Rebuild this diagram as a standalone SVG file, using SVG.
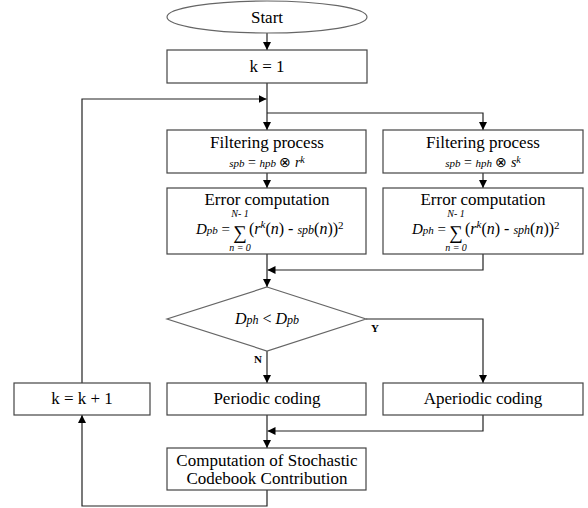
<svg xmlns="http://www.w3.org/2000/svg" width="588" height="508" viewBox="0 0 588 508">
<defs>
<marker id="ah" viewBox="0 0 8 8" refX="8" refY="4" markerWidth="8" markerHeight="8" markerUnits="userSpaceOnUse" orient="auto">
<path d="M0,0 L8,4 L0,8 z" fill="#000"/>
</marker>
</defs>
<style>
.box{fill:#fff;stroke:#444;stroke-width:1.2}
.dia{fill:#fff;stroke:#666;stroke-width:1.2}
.t{font-family:'Liberation Serif',serif;font-size:17px;fill:#000;text-anchor:middle}
.m{font-family:'Liberation Serif',serif;font-style:italic;fill:#000}
.lbl{font-family:'Liberation Serif',serif;font-size:11px;font-weight:bold;fill:#000;text-anchor:middle}
.ca{fill:none;stroke:#222;stroke-width:1.2;marker-end:url(#ah)}
</style>
<rect width="588" height="508" fill="#fff"/>
<g id="connectors">
<path class="ca" d="M267 33 V50"/>
<path class="ca" d="M267 83 V130"/>
<path class="ca" d="M267 113 H483 V130"/>
<path class="ca" d="M267 173 V188"/>
<path class="ca" d="M483 173 V188"/>
<path class="ca" d="M267 254 V287"/>
<path class="ca" d="M483 254 V270 H267.5"/>
<path class="ca" d="M267 351 V383"/>
<path class="ca" d="M366 319 H483 V383"/>
<path class="ca" d="M267 415 V448"/>
<path class="ca" d="M483 415 V431 H267.5"/>
<path class="ca" d="M267 490 V506 H82 V415"/>
<path class="ca" d="M82 383 V99 H266.5"/>
</g>
<g id="start">
<ellipse class="dia" cx="267" cy="17" rx="100" ry="16"/>
<text class="t" x="267" y="23">Start</text>
</g>
<g id="init">
<rect class="box" x="167" y="50" width="200" height="33"/>
<text class="t" x="267" y="72">k = 1</text>
</g>
<g id="filter-left">
<rect class="box" x="167" y="130" width="199" height="43"/>
<text class="t" x="267" y="148">Filtering process</text>
<text class="m" x="267" y="167" text-anchor="middle" font-size="11"><tspan>spb</tspan><tspan font-style="normal" font-size="14"> = </tspan><tspan>hpb</tspan><tspan font-style="normal" font-size="14"> ⊗ </tspan><tspan font-size="14">r</tspan><tspan font-size="10" dy="-4">k</tspan></text>
</g>
<g id="filter-right">
<rect class="box" x="383" y="130" width="200" height="43"/>
<text class="t" x="483" y="148">Filtering process</text>
<text class="m" x="483" y="167" text-anchor="middle" font-size="11"><tspan>spb</tspan><tspan font-style="normal" font-size="14"> = </tspan><tspan>hph</tspan><tspan font-style="normal" font-size="14"> ⊗ </tspan><tspan font-size="14">s</tspan><tspan font-size="10" dy="-4">k</tspan></text>
</g>
<g id="error-left">
<rect class="box" x="167" y="188" width="199" height="66"/>
<text class="t" x="267" y="205">Error computation</text>
<text class="m" x="196" y="234" font-size="15"><tspan>D</tspan><tspan font-size="11">pb</tspan><tspan font-style="normal"> =</tspan></text>
<text class="m" x="240" y="239" text-anchor="middle" font-size="19" font-style="normal">∑</text>
<text class="m" x="240" y="217" text-anchor="middle" font-size="10">N- 1</text>
<text class="m" x="240" y="251" text-anchor="middle" font-size="10">n = 0</text>
<text class="m" x="249" y="234" font-size="16"><tspan font-style="normal">(</tspan><tspan>r</tspan><tspan font-size="11" dy="-6">k</tspan><tspan dy="6" font-style="normal">(</tspan><tspan>n</tspan><tspan font-style="normal">) - </tspan><tspan font-size="12">spb</tspan><tspan font-style="normal">(</tspan><tspan>n</tspan><tspan font-style="normal">))</tspan><tspan font-size="11" font-style="normal" dy="-5">2</tspan></text>
</g>
<g id="error-right">
<rect class="box" x="383" y="188" width="200" height="66"/>
<text class="t" x="483" y="205">Error computation</text>
<text class="m" x="412" y="234" font-size="15"><tspan>D</tspan><tspan font-size="11">ph</tspan><tspan font-style="normal"> =</tspan></text>
<text class="m" x="456" y="239" text-anchor="middle" font-size="19" font-style="normal">∑</text>
<text class="m" x="456" y="217" text-anchor="middle" font-size="10">N- 1</text>
<text class="m" x="456" y="251" text-anchor="middle" font-size="10">n = 0</text>
<text class="m" x="465" y="234" font-size="16"><tspan font-style="normal">(</tspan><tspan>r</tspan><tspan font-size="11" dy="-6">k</tspan><tspan dy="6" font-style="normal">(</tspan><tspan>n</tspan><tspan font-style="normal">) - </tspan><tspan font-size="12">sph</tspan><tspan font-style="normal">(</tspan><tspan>n</tspan><tspan font-style="normal">))</tspan><tspan font-size="11" font-style="normal" dy="-5">2</tspan></text>
</g>
<g id="decision">
<polygon class="dia" points="267,287 366,319 267,351 167,319"/>
<text class="m" x="267" y="324" text-anchor="middle" font-size="16"><tspan>D</tspan><tspan font-size="12">ph</tspan><tspan font-style="normal"> &lt; </tspan><tspan>D</tspan><tspan font-size="12">pb</tspan></text>
<text class="lbl" x="375" y="332">Y</text>
<text class="lbl" x="258" y="363">N</text>
</g>
<g id="increment">
<rect class="box" x="14" y="383" width="136" height="32"/>
<text class="t" x="82" y="404">k = k + 1</text>
</g>
<g id="periodic">
<rect class="box" x="167" y="383" width="199" height="32"/>
<text class="t" x="267" y="404">Periodic coding</text>
</g>
<g id="aperiodic">
<rect class="box" x="383" y="383" width="200" height="32"/>
<text class="t" x="483" y="404">Aperiodic coding</text>
</g>
<g id="stochastic">
<rect class="box" x="167" y="448" width="199" height="42"/>
<text class="t" x="267" y="466">Computation of Stochastic</text>
<text class="t" x="267" y="484">Codebook Contribution</text>
</g>
</svg>
